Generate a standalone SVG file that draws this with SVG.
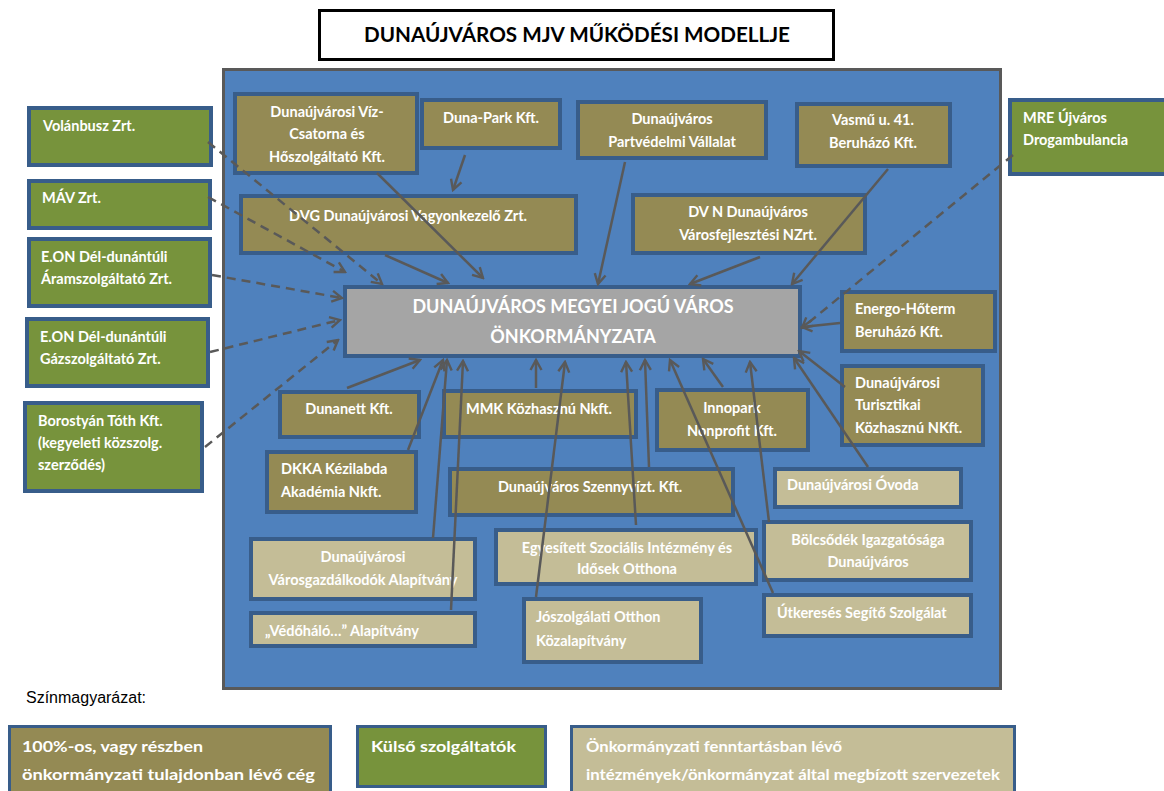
<svg xmlns="http://www.w3.org/2000/svg" width="1164" height="791" viewBox="0 0 1164 791">
<defs>
<style>
.bg{fill:#ffffff}
.main{fill:#4F81BD;stroke:#595959;stroke-width:3}
.ol{fill:#948A54;stroke:#385D8A;stroke-width:4}
.gr{fill:#77933C;stroke:#385D8A;stroke-width:4}
.tn{fill:#C4BD97;stroke:#385D8A;stroke-width:4}
.cg{fill:#A5A5A5;stroke:#385D8A;stroke-width:4}
.lg{stroke-width:3}
text{font-family:Lato,"Open Sans","Liberation Sans",sans-serif;font-weight:bold;fill:#ffffff}
.t{font-size:14.5px}
.c{text-anchor:middle}
.big{font-size:18px}
.leg{font-size:16px}
.ttl{font-size:20px;fill:#000000}
.key{font-family:"Liberation Sans",Arial,sans-serif;font-weight:normal;font-size:16px;fill:#000000}
.cn{fill:none;stroke:#595959;stroke-width:2.5}
.d{stroke-dasharray:9 6}
</style>
<marker id="ah" viewBox="0 0 14 14" refX="12" refY="7" markerWidth="14" markerHeight="14" markerUnits="userSpaceOnUse" orient="auto">
<path d="M2,1.5 L12,7 L2,12.5" fill="none" stroke="#595959" stroke-width="2.4"/>
</marker>
</defs>
<rect class="bg" x="0" y="0" width="1164" height="791"/>

<g id="title">
<rect x="319.5" y="10.5" width="514" height="49" fill="#ffffff" stroke="#000000" stroke-width="3"/>
<text class="ttl c" x="577" y="42" textLength="426" lengthAdjust="spacingAndGlyphs">DUNAÚJVÁROS MJV MŰKÖDÉSI MODELLJE</text>
</g>

<g id="frame">
<rect class="main" x="223.5" y="69.5" width="777" height="619"/>
</g>

<g id="viz"><rect class="ol" x="235" y="94" width="182" height="79"/>
<text class="t c" x="327" y="117">Dunaújvárosi Víz-</text>
<text class="t c" x="327" y="139">Csatorna és</text>
<text class="t c" x="327" y="162">Hőszolgáltató Kft.</text></g>

<g id="dunapark"><rect class="ol" x="422" y="100" width="138" height="48"/>
<text class="t c" x="491" y="123">Duna-Park Kft.</text></g>

<g id="partved"><rect class="ol" x="578" y="102" width="188" height="56"/>
<text class="t c" x="672" y="124">Dunaújváros</text>
<text class="t c" x="672" y="147">Partvédelmi Vállalat</text></g>

<g id="vasmu"><rect class="ol" x="797" y="104" width="153" height="62"/>
<text class="t c" x="873" y="125">Vasmű u. 41.</text>
<text class="t c" x="873" y="148">Beruházó Kft.</text></g>

<g id="dvg"><rect class="ol" x="241" y="196" width="335" height="57"/>
<text class="t c" x="408" y="221">DVG Dunaújvárosi Vagyonkezelő Zrt.</text></g>

<g id="dvn"><rect class="ol" x="633" y="195" width="232" height="58"/>
<text class="t c" x="748" y="217">DV N Dunaújváros</text>
<text class="t c" x="748" y="240">Városfejlesztési NZrt.</text></g>

<g id="energo"><rect class="ol" x="842" y="292" width="153" height="59"/>
<text class="t" x="855" y="314">Energo-Hőterm</text>
<text class="t" x="855" y="337">Beruházó Kft.</text></g>

<g id="turisz"><rect class="ol" x="842" y="366" width="141" height="79"/>
<text class="t" x="855" y="388">Dunaújvárosi</text>
<text class="t" x="855" y="410">Turisztikai</text>
<text class="t" x="855" y="433">Közhasznú NKft.</text></g>

<g id="dunanett"><rect class="ol" x="280" y="392" width="139" height="45"/>
<text class="t c" x="349" y="414">Dunanett Kft.</text></g>

<g id="mmk"><rect class="ol" x="444" y="391" width="192" height="46"/>
<text class="t c" x="539" y="414">MMK Közhasznú Nkft.</text></g>

<g id="innopark"><rect class="ol" x="657" y="390" width="151" height="60"/>
<text class="t c" x="732" y="413">Innopark</text>
<text class="t c" x="732" y="436">Nonprofit Kft.</text></g>

<g id="dkka"><rect class="ol" x="267" y="452" width="149" height="60"/>
<text class="t" x="281" y="474">DKKA Kézilabda</text>
<text class="t" x="281" y="497">Akadémia Nkft.</text></g>

<g id="szenny"><rect class="ol" x="450" y="469" width="283" height="46"/>
<text class="t c" x="590" y="492">Dunaújváros Szennyvízt. Kft.</text></g>

<g id="varosgazd"><rect class="tn" x="251" y="539" width="224" height="60"/>
<text class="t c" x="363" y="562">Dunaújvárosi</text>
<text class="t c" x="363" y="585">Városgazdálkodók Alapítvány</text></g>

<g id="vedohalo"><rect class="tn" x="251" y="613" width="224" height="33"/>
<text class="t" x="265" y="636">„Védőháló…” Alapítvány</text></g>

<g id="egyesitett"><rect class="tn" x="496" y="530" width="260" height="54"/>
<text class="t c" x="627" y="553">Egyesített Szociális Intézmény és</text>
<text class="t c" x="627" y="574">Idősek  Otthona</text></g>

<g id="joszolg"><rect class="tn" x="524" y="599" width="177" height="63"/>
<text class="t" x="536" y="622">Jószolgálati Otthon</text>
<text class="t" x="536" y="646">Közalapítvány</text></g>

<g id="ovoda"><rect class="tn" x="775" y="469" width="186" height="38"/>
<text class="t" x="787" y="490">Dunaújvárosi Óvoda</text></g>

<g id="bolcs"><rect class="tn" x="764" y="522" width="207" height="58"/>
<text class="t c" x="868" y="545">Bölcsődék Igazgatósága</text>
<text class="t c" x="868" y="567">Dunaújváros</text></g>

<g id="utkereses"><rect class="tn" x="764" y="595" width="207" height="41"/>
<text class="t" x="777" y="618">Útkeresés Segítő Szolgálat</text></g>

<g id="volan"><rect class="gr" x="29" y="108" width="182" height="57"/>
<text class="t" x="43" y="131">Volánbusz Zrt.</text></g>

<g id="mav"><rect class="gr" x="29" y="181" width="181" height="47"/>
<text class="t" x="42" y="203">MÁV Zrt.</text></g>

<g id="eonaram"><rect class="gr" x="29" y="239" width="181" height="67"/>
<text class="t" x="41" y="262">E.ON Dél-dunántúli</text>
<text class="t" x="41" y="284">Áramszolgáltató Zrt.</text></g>

<g id="eongaz"><rect class="gr" x="27" y="319" width="181" height="67"/>
<text class="t" x="40" y="342">E.ON Dél-dunántúli</text>
<text class="t" x="40" y="364">Gázszolgáltató Zrt.</text></g>

<g id="borostyan"><rect class="gr" x="25" y="403" width="177" height="88"/>
<text class="t" x="38" y="426">Borostyán Tóth Kft.</text>
<text class="t" x="38" y="448">(kegyeleti közszolg.</text>
<text class="t" x="38" y="470">szerződés)</text></g>

<g id="mre"><rect class="gr" x="1010" y="100" width="160" height="74"/>
<text class="t" x="1023" y="123">MRE Újváros</text>
<text class="t" x="1023" y="145">Drogambulancia</text></g>

<g id="center"><rect class="cg" x="345" y="287" width="455" height="69"/>
<text class="big c" x="573" y="313">DUNAÚJVÁROS MEGYEI JOGÚ VÁROS</text>
<text class="big c" x="573" y="343">ÖNKORMÁNYZATA</text></g>

<g id="connectors" marker-end="url(#ah)">
<line class="cn d" x1="208" y1="142" x2="382" y2="284"/>
<line class="cn d" x1="208" y1="197" x2="345" y2="272"/>
<line class="cn d" x1="212" y1="275" x2="342" y2="298"/>
<line class="cn d" x1="210" y1="352" x2="340" y2="320"/>
<line class="cn d" x1="205" y1="447" x2="338" y2="340"/>
<line class="cn d" x1="1013" y1="155" x2="802" y2="328"/>
<line class="cn" x1="377" y1="173" x2="483" y2="278"/>
<line class="cn" x1="465" y1="155" x2="453" y2="190"/>
<line class="cn" x1="385" y1="255" x2="448" y2="283"/>
<line class="cn" x1="625" y1="162" x2="598" y2="284"/>
<line class="cn" x1="760" y1="257" x2="690" y2="284"/>
<line class="cn" x1="888" y1="169" x2="792" y2="284"/>
<line class="cn" x1="840" y1="323" x2="802" y2="327"/>
<line class="cn" x1="845" y1="387" x2="799" y2="351"/>
<line class="cn" x1="868" y1="467" x2="794" y2="358"/>
<line class="cn" x1="347" y1="388" x2="420" y2="360"/>
<line class="cn" x1="408" y1="450" x2="443" y2="360"/>
<line class="cn" x1="433" y1="538" x2="447" y2="360"/>
<line class="cn" x1="451" y1="610" x2="463" y2="361"/>
<line class="cn" x1="536" y1="388" x2="536" y2="360"/>
<line class="cn" x1="536" y1="597" x2="565" y2="362"/>
<line class="cn" x1="636" y1="525" x2="626" y2="362"/>
<line class="cn" x1="649" y1="467" x2="645" y2="360"/>
<line class="cn" x1="773" y1="593" x2="670" y2="360"/>
<line class="cn" x1="723" y1="387" x2="703" y2="359"/>
<line class="cn" x1="769" y1="522" x2="750" y2="362"/>
</g>

<g id="legend">
<text class="key" x="26" y="703">Színmagyarázat:</text>
<g id="leg-olive"><rect class="ol lg" x="9.5" y="726.5" width="321" height="70"/>
<text class="leg" x="22" y="752" textLength="181" lengthAdjust="spacingAndGlyphs">100%-os, vagy részben</text>
<text class="leg" x="22" y="780" textLength="293" lengthAdjust="spacingAndGlyphs">önkormányzati tulajdonban lévő cég</text></g>
<g id="leg-green"><rect class="gr lg" x="357.5" y="726.5" width="188" height="60"/>
<text class="leg" x="371" y="752" textLength="145" lengthAdjust="spacingAndGlyphs">Külső szolgáltatók</text></g>
<g id="leg-tan"><rect class="tn lg" x="571.5" y="726.5" width="443" height="70"/>
<text class="leg" x="586" y="752" textLength="256" lengthAdjust="spacingAndGlyphs">Önkormányzati fenntartásban lévő</text>
<text class="leg" x="586" y="780" textLength="414" lengthAdjust="spacingAndGlyphs">intézmények/önkormányzat által megbízott szervezetek</text></g>
</g>
</svg>
